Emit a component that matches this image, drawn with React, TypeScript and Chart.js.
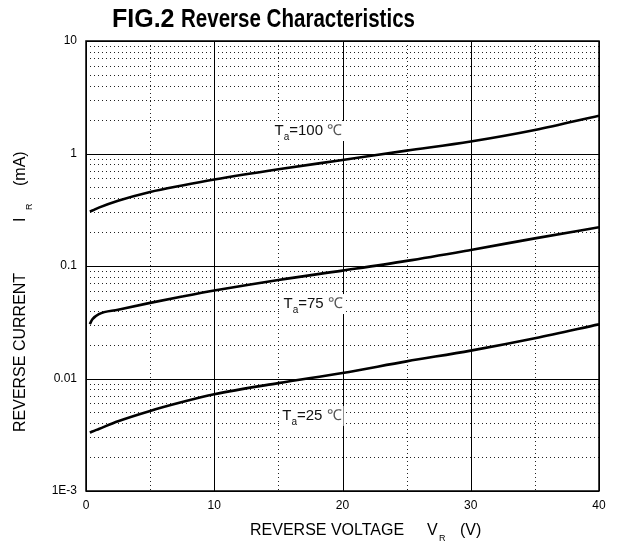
import React, { useEffect, useRef } from 'react';
import { Chart, registerables } from 'chart.js';

Chart.register(...registerables);

// ---- data ----
const voltages = [0.3, 0.5, 1, 2.5, 5, 7.5, 10, 15, 20, 25, 30, 35, 40];
const current100 = [0.304, 0.311, 0.33, 0.38, 0.455, 0.52, 0.587, 0.724, 0.875, 1.06, 1.28, 1.62, 2.17];
const current75 = [0.0305, 0.0336, 0.0374, 0.0409, 0.047, 0.0535, 0.0605, 0.0752, 0.091, 0.111, 0.139, 0.176, 0.221];
const current25 = [0.0033, 0.00338, 0.00356, 0.00417, 0.00515, 0.00617, 0.00723, 0.0091, 0.0112, 0.0142, 0.0177, 0.0228, 0.0303];

const xTickValues = [0, 10, 20, 30, 40];
const xMinorValues = [5, 15, 25, 35];
const yTickValues = [0.001, 0.01, 0.1, 1, 10];
const yTickLabels = ['1E-3', '0.01', '0.1', '1', '10'];
const yMinorMultipliers = [2, 3, 4, 5, 6, 7, 8, 9];

const curveLabels = [
  { temp: '100', v: 14.7, i: 1.46 },
  { temp: '75', v: 15.4, i: 0.0423 },
  { temp: '25', v: 15.3, i: 0.00428 },
];

const FONT = '"Liberation Sans", Arial, sans-serif';

const gridPlugin = {
  id: 'customGrid',
  beforeDatasetsDraw(chart: any) {
    const { ctx, chartArea: a, scales } = chart;
    const xs = scales.x;
    const ys = scales.y;
    ctx.save();
    ctx.strokeStyle = '#222';
    ctx.lineWidth = 1;
    ctx.setLineDash([1, 3]);
    for (let d = 0; d < yTickValues.length - 1; d++) {
      for (const m of yMinorMultipliers) {
        const py = Math.round(ys.getPixelForValue(yTickValues[d] * m)) + 0.5;
        ctx.beginPath();
        ctx.moveTo(a.left, py);
        ctx.lineTo(a.right, py);
        ctx.stroke();
      }
    }
    for (const v of xMinorValues) {
      const px = Math.round(xs.getPixelForValue(v)) + 0.5;
      ctx.beginPath();
      ctx.moveTo(px, a.top);
      ctx.lineTo(px, a.bottom);
      ctx.stroke();
    }
    ctx.setLineDash([]);
    ctx.strokeStyle = '#000';
    ctx.lineWidth = 1;
    for (const v of yTickValues) {
      const py = Math.round(ys.getPixelForValue(v)) + 0.5;
      ctx.beginPath();
      ctx.moveTo(a.left, py);
      ctx.lineTo(a.right, py);
      ctx.stroke();
    }
    for (const v of xTickValues) {
      const px = Math.round(xs.getPixelForValue(v)) + 0.5;
      ctx.beginPath();
      ctx.moveTo(px, a.top);
      ctx.lineTo(px, a.bottom);
      ctx.stroke();
    }
    ctx.lineWidth = 1.5;
    ctx.strokeRect(a.left, a.top, a.right - a.left, a.bottom - a.top);
    ctx.restore();
  },
  afterDatasetsDraw(chart: any) {
    const { ctx, scales } = chart;
    ctx.save();
    ctx.textBaseline = 'alphabetic';
    ctx.textAlign = 'left';
    for (const lab of curveLabels) {
      const x = scales.x.getPixelForValue(lab.v);
      const y = scales.y.getPixelForValue(lab.i);
      ctx.font = `15px ${FONT}`;
      const wT = ctx.measureText('T').width;
      const eq = '=' + lab.temp + ' ';
      const wEq = ctx.measureText(eq).width;
      const wC = ctx.measureText('\u2103').width;
      ctx.font = `10px ${FONT}`;
      const wa = ctx.measureText('a').width;
      const total = wT + wa + wEq + wC;
      ctx.fillStyle = '#fff';
      ctx.fillRect(x - 2, y - 14, total + 4, 20);
      ctx.fillStyle = '#111';
      ctx.font = `15px ${FONT}`;
      ctx.fillText('T', x, y);
      ctx.font = `10px ${FONT}`;
      ctx.fillText('a', x + wT, y + 5);
      ctx.font = `15px ${FONT}`;
      ctx.fillText(eq, x + wT + wa, y);
      ctx.fillStyle = '#555';
      ctx.fillText('\u2103', x + wT + wa + wEq, y);
    }
    ctx.restore();
  },
  afterDraw(chart: any) {
    const { ctx } = chart;
    ctx.save();
    ctx.fillStyle = '#000';
    ctx.textBaseline = 'alphabetic';
    ctx.textAlign = 'left';
    ctx.font = `bold 25px ${FONT}`;
    ctx.fillText('FIG.2', 112, 27);
    ctx.fillText('Reverse Characteristics', 181, 27, 234);
    ctx.font = `16px ${FONT}`;
    ctx.fillText('REVERSE VOLTAGE', 250, 535);
    ctx.fillText('V', 427, 535);
    ctx.fillText('(V)', 460, 535);
    ctx.font = `9px ${FONT}`;
    ctx.fillText('R', 439, 541);
    ctx.translate(25, 432);
    ctx.rotate(-Math.PI / 2);
    ctx.font = `16px ${FONT}`;
    ctx.fillText('REVERSE CURRENT', 0, 0);
    ctx.fillText('I', 210, 0);
    ctx.fillText('(mA)', 246, 0);
    ctx.font = `9px ${FONT}`;
    ctx.fillText('R', 222, 7);
    ctx.restore();
  },
};

export default function App() {
  const ref = useRef<HTMLCanvasElement>(null);
  useEffect(() => {
    if (!ref.current) return;
    const mk = (vals: number[]) => voltages.map((v, i) => ({ x: v, y: vals[i] }));
    const ds = (vals: number[]) => ({
      data: mk(vals),
      borderColor: '#000',
      borderWidth: 2.6,
      pointRadius: 0,
      fill: false,
      cubicInterpolationMode: 'monotone' as const,
    });
    const chart = new Chart(ref.current, {
      type: 'line',
      data: { datasets: [ds(current100), ds(current75), ds(current25)] },
      options: {
        responsive: false,
        animation: false,
        devicePixelRatio: 1,
        layout: { padding: { top: 41, right: 22, left: 0, bottom: 0 } },
        plugins: { legend: { display: false }, tooltip: { enabled: false }, title: { display: false } },
        scales: {
          x: {
            type: 'linear',
            min: 0,
            max: 40,
            afterFit: (s: any) => { s.height = 54; },
            afterBuildTicks: (s: any) => { s.ticks = xTickValues.map((v) => ({ value: v })); },
            grid: { display: false, drawTicks: false },
            border: { display: false },
            ticks: {
              color: '#000',
              padding: 7,
              maxRotation: 0,
              font: { family: FONT, size: 12 },
              callback: (v: any) => String(v),
            },
          },
          y: {
            type: 'logarithmic',
            min: 0.001,
            max: 10,
            afterFit: (s: any) => { s.width = 86; },
            afterBuildTicks: (s: any) => { s.ticks = yTickValues.map((v) => ({ value: v })); },
            grid: { display: false, drawTicks: false },
            border: { display: false },
            ticks: {
              color: '#000',
              padding: 9,
              font: { family: FONT, size: 12 },
              callback: (v: any) => {
                const idx = yTickValues.findIndex((t) => Math.abs(t - v) / t < 1e-6);
                return idx >= 0 ? yTickLabels[idx] : '';
              },
            },
          },
        },
      },
      plugins: [gridPlugin],
    });
    return () => chart.destroy();
  }, []);
  return (
    <div style={{ position: 'absolute', left: 0, top: 0, width: 621, height: 545, background: '#fff' }}>
      <canvas ref={ref} width={621} height={545} style={{ display: 'block' }} />
    </div>
  );
}
